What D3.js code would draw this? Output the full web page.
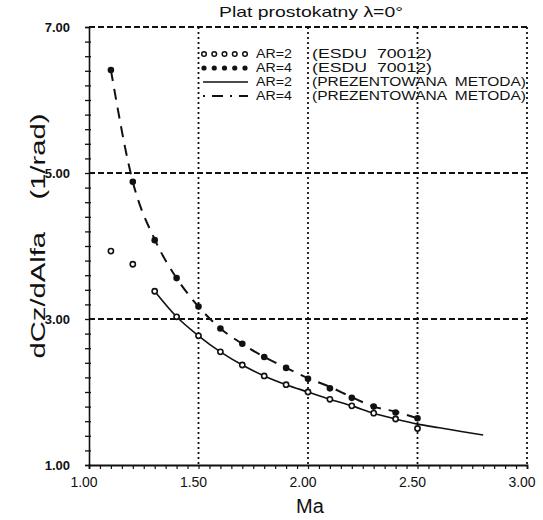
<!DOCTYPE html>
<html>
<head>
<meta charset="utf-8">
<script src="https://cdn.jsdelivr.net/npm/d3@7"></script>
<style>
  html, body { margin: 0; padding: 0; background: #fff; }
  svg { display: block; }
  text { font-family: "Liberation Sans", Arial, sans-serif; fill: #111; }
</style>
</head>
<body>
<svg id="chart" width="543" height="520"></svg>
<script>
// ---- data ----
const titleText = "Plat prostokatny \u03bb=0\u00b0";
const xTicks = [1.0, 1.5, 2.0, 2.5, 3.0];
const xTickLabels = ["1.00", "1.50", "2.00", "2.50", "3.00"];
const yTicks = [1, 3, 5, 7];
const yTickLabels = ["1.00", "3.00", "5.00", "7.00"];

const esduMachAR2 = [1.1, 1.2, 1.3, 1.4, 1.5, 1.6, 1.7, 1.8, 1.9, 2.0, 2.1, 2.2, 2.3, 2.4, 2.5];
const esduAR2     = [3.93, 3.75, 3.38, 3.03, 2.77, 2.55, 2.37, 2.22, 2.10, 2.00, 1.90, 1.81, 1.71, 1.63, 1.50];
const esduMachAR4 = [1.1, 1.2, 1.3, 1.4, 1.5, 1.6, 1.7, 1.8, 1.9, 2.0, 2.1, 2.2, 2.3, 2.4, 2.5];
const esduAR4     = [6.41, 4.88, 4.08, 3.56, 3.17, 2.87, 2.66, 2.48, 2.33, 2.18, 2.05, 1.92, 1.80, 1.72, 1.64];

const methodMachAR2 = [1.3, 1.4, 1.5, 1.6, 1.7, 1.8, 1.9, 2.0, 2.1, 2.2, 2.3, 2.4, 2.5, 2.6, 2.7, 2.8];
const methodAR2     = [3.38, 3.03, 2.77, 2.55, 2.37, 2.22, 2.10, 2.00, 1.90, 1.81, 1.71, 1.63, 1.56, 1.51, 1.46, 1.41];
const methodMachAR4 = [1.1, 1.2, 1.3, 1.4, 1.5, 1.6, 1.7, 1.8, 1.9, 2.0, 2.1, 2.2, 2.3, 2.4, 2.5];
const methodAR4     = [6.41, 4.88, 4.09, 3.56, 3.17, 2.87, 2.66, 2.48, 2.33, 2.19, 2.07, 1.93, 1.80, 1.73, 1.64];

const legendLabels = ["AR=2", "AR=4", "AR=2", "AR=4"];
const legendSources = ["(ESDU  70012)", "(ESDU  70012)", "(PREZENTOWANA  METODA)", "(PREZENTOWANA  METODA)"];

// ---- layout ----
const svg = d3.select("#chart");
const x = d3.scaleLinear().domain([1, 3]).range([89, 527]);
const y = d3.scaleLinear().domain([1, 7]).range([465, 27]);

// grid: horizontal dashed (incl. top border)
svg.append("g").selectAll("line").data([3, 5, 7]).join("line")
  .attr("x1", x(1)).attr("x2", x(3))
  .attr("y1", d => y(d)).attr("y2", d => y(d))
  .attr("stroke", "#111").attr("stroke-width", 1.8)
  .attr("stroke-dasharray", "6,3");
// grid: vertical dotted (incl. right border)
svg.append("g").selectAll("line").data([1.5, 2.0, 2.5, 3.0]).join("line")
  .attr("x1", d => x(d)).attr("x2", d => x(d))
  .attr("y1", y(7)).attr("y2", y(1))
  .attr("stroke", "#111").attr("stroke-width", 1.8)
  .attr("stroke-dasharray", "2,3");

// y axis with minor ticks
const yAxis = d3.axisLeft(y).tickValues(d3.range(1, 7.001, 0.2)).tickSize(4).tickFormat("");
const gy = svg.append("g").attr("transform", `translate(${x(1)},0)`).call(yAxis);
gy.select(".domain").attr("stroke", "#111").attr("stroke-width", 1.6);
gy.selectAll(".tick line").attr("stroke", "#111").attr("stroke-width", 1.3).attr("x2", -4).attr("x1", 2);
// y major labels
svg.append("g").selectAll("text").data(yTicks).join("text")
  .attr("x", 70).attr("y", d => y(d) + 4.5)
  .attr("text-anchor", "end")
  .attr("font-size", 13).attr("font-weight", "bold")
  .text((d, i) => yTickLabels[i]);

// x axis with minor ticks
const xAxis = d3.axisBottom(x).tickValues(d3.range(1, 3.001, 0.05)).tickSize(4).tickFormat("");
const gx = svg.append("g").attr("transform", `translate(0,${y(1)})`).call(xAxis);
gx.select(".domain").attr("stroke", "#111").attr("stroke-width", 1.8);
gx.selectAll(".tick line").attr("stroke", "#111").attr("stroke-width", 1.2).attr("y1", 1);
svg.append("g").selectAll("text").data(xTicks).join("text")
  .attr("x", d => x(d) - 5).attr("y", 487)
  .attr("text-anchor", "middle")
  .attr("font-size", 14)
  .text((d, i) => xTickLabels[i]);

// axis titles
svg.append("text").attr("x", 310).attr("y", 513).attr("text-anchor", "middle")
  .attr("font-size", 20).text("Ma");
svg.append("text")
  .attr("transform", `translate(45,236) rotate(-90)`)
  .attr("text-anchor", "middle").attr("font-size", 21)
  .attr("xml:space", "preserve")
  .attr("textLength", 245).attr("lengthAdjust", "spacingAndGlyphs")
  .text("dCz/dAlfa    (1/rad)");

// title
svg.append("text").attr("x", 311).attr("y", 17).attr("text-anchor", "middle")
  .attr("font-size", 14.5)
  .attr("textLength", 184).attr("lengthAdjust", "spacingAndGlyphs")
  .text(titleText);

// lines
const line = d3.line().x(d => x(d[0])).y(d => y(d[1])).curve(d3.curveMonotoneX);
svg.append("path").datum(d3.zip(methodMachAR2, methodAR2))
  .attr("d", line).attr("fill", "none").attr("stroke", "#111").attr("stroke-width", 1.6);
svg.append("path").datum(d3.zip(methodMachAR4, methodAR4))
  .attr("d", line).attr("fill", "none").attr("stroke", "#111").attr("stroke-width", 2)
  .attr("stroke-dasharray", "11,8");

// markers
svg.append("g").selectAll("circle").data(d3.zip(esduMachAR4, esduAR4)).join("circle")
  .attr("cx", d => x(d[0])).attr("cy", d => y(d[1])).attr("r", 3.3)
  .attr("fill", "#111");
svg.append("g").selectAll("circle").data(d3.zip(esduMachAR2, esduAR2)).join("circle")
  .attr("cx", d => x(d[0])).attr("cy", d => y(d[1])).attr("r", 2.6)
  .attr("fill", "#fff").attr("stroke", "#111").attr("stroke-width", 1.6);

// legend
const lg = svg.append("g");
const rowY = [58, 72, 86, 100];
const symX0 = 201, symX1 = 248;
const symXs = d3.range(5).map(i => symX0 + 3 + i * (symX1 - symX0 - 6) / 4);
lg.selectAll("circle.o").data(symXs).join("circle").attr("class", "o")
  .attr("cx", d => d).attr("cy", rowY[0] - 4).attr("r", 2.3)
  .attr("fill", "#fff").attr("stroke", "#111").attr("stroke-width", 1.5);
lg.selectAll("circle.f").data(symXs).join("circle").attr("class", "f")
  .attr("cx", d => d).attr("cy", rowY[1] - 4).attr("r", 2.6)
  .attr("fill", "#111");
lg.append("line").attr("x1", symX0 + 2).attr("x2", symX1).attr("y1", rowY[2] - 4).attr("y2", rowY[2] - 4)
  .attr("stroke", "#111").attr("stroke-width", 1.5);
lg.append("line").attr("x1", symX0 + 2).attr("x2", symX1).attr("y1", rowY[3] - 4).attr("y2", rowY[3] - 4)
  .attr("stroke", "#111").attr("stroke-width", 2).attr("stroke-dasharray", "2,7,11,7");
lg.selectAll("text.l").data(legendLabels).join("text").attr("class", "l")
  .attr("x", 256).attr("y", (d, i) => rowY[i])
  .attr("font-size", 12)
  .attr("textLength", 36).attr("lengthAdjust", "spacingAndGlyphs")
  .text(d => d);
lg.selectAll("text.s").data(legendSources).join("text").attr("class", "s")
  .attr("x", 312).attr("y", (d, i) => rowY[i])
  .attr("font-size", 12)
  .attr("xml:space", "preserve")
  .attr("textLength", (d, i) => i < 2 ? 120 : 214)
  .attr("lengthAdjust", "spacingAndGlyphs")
  .text(d => d);
</script>
</body>
</html>
